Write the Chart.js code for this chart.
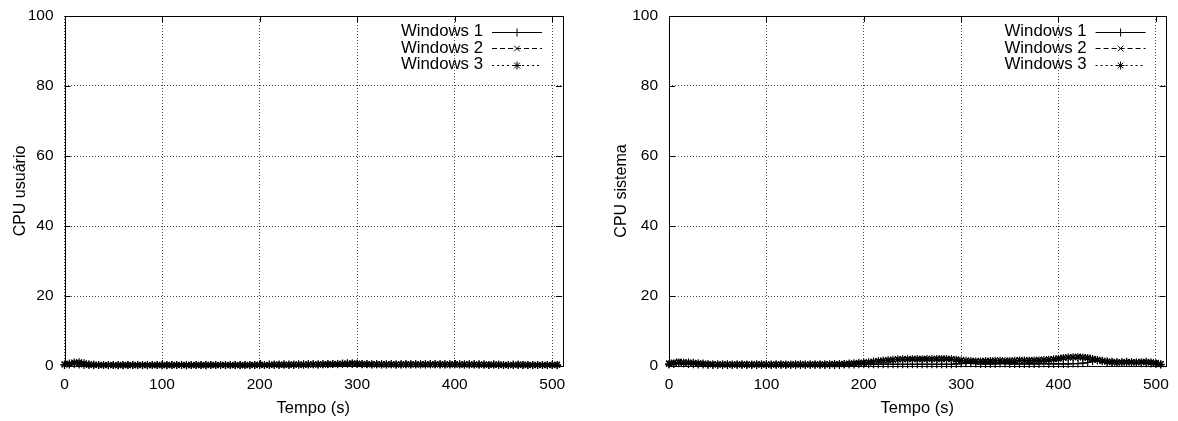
<!DOCTYPE html>
<html><head><meta charset="utf-8">
<script src="https://cdn.jsdelivr.net/npm/chart.js@4/dist/chart.umd.min.js"></script>
<style>
html,body{margin:0;padding:0;background:#fff;width:1178px;height:421px;overflow:hidden}
.box{position:absolute;top:0}
</style></head><body>
<div class="box" style="left:0"><canvas id="c1" width="590" height="421"></canvas></div>
<div class="box" style="left:600px"><canvas id="c2" width="578" height="421"></canvas></div>
<script>
const seriesNames = ["Windows 1", "Windows 2", "Windows 3"];
const times = [0,5,10,15,20,25,30,35,40,45,50,55,60,65,70,75,80,85,90,95,
100,105,110,115,120,125,130,135,140,145,150,155,160,165,170,175,180,185,190,195,
200,205,210,215,220,225,230,235,240,245,250,255,260,265,270,275,280,285,290,295,
300,305,310,315,320,325,330,335,340,345,350,355,360,365,370,375,380,385,390,395,
400,405,410,415,420,425,430,435,440,445,450,455,460,465,470,475,480,485,490,495,
500,505];
const xTicks = [0,100,200,300,400,500];
const yTicks = [0,20,40,60,80,100];

// CPU usuário
const userW1 = [0.3,0.4,0.5,0.4,0.3,0.3,0.2,0.3,0.3,0.2,
0.3,0.3,0.2,0.3,0.3,0.3,0.2,0.3,0.3,0.3,
0.3,0.2,0.3,0.3,0.3,0.2,0.3,0.3,0.3,0.2,
0.3,0.3,0.3,0.2,0.3,0.3,0.3,0.3,0.2,0.3,
0.3,0.3,0.4,0.3,0.3,0.4,0.4,0.3,0.4,0.4,
0.4,0.5,0.4,0.5,0.5,0.6,0.5,0.6,0.7,0.6,
0.6,0.5,0.5,0.4,0.5,0.4,0.4,0.5,0.4,0.4,
0.5,0.4,0.5,0.5,0.4,0.5,0.5,0.4,0.5,0.4,
0.5,0.5,0.4,0.4,0.5,0.4,0.4,0.3,0.4,0.3,
0.3,0.3,0.4,0.3,0.3,0.3,0.3,0.3,0.3,0.3,
0.3,0.2];
const userW2 = [0.5,0.6,0.9,0.7,0.4,0.3,0.3,0.3,0.2,0.3,
0.2,0.3,0.3,0.2,0.3,0.2,0.3,0.3,0.2,0.3,
0.3,0.3,0.2,0.3,0.3,0.3,0.2,0.3,0.2,0.3,
0.3,0.2,0.3,0.3,0.2,0.3,0.3,0.2,0.3,0.3,
0.3,0.3,0.3,0.4,0.3,0.3,0.4,0.4,0.4,0.3,
0.4,0.4,0.5,0.5,0.4,0.5,0.6,0.6,0.6,0.7,
0.6,0.6,0.5,0.5,0.5,0.5,0.4,0.5,0.5,0.4,
0.5,0.5,0.4,0.5,0.5,0.4,0.5,0.5,0.5,0.4,
0.5,0.4,0.5,0.4,0.4,0.4,0.4,0.4,0.3,0.4,
0.3,0.3,0.3,0.3,0.4,0.3,0.3,0.3,0.3,0.3,
0.3,0.4];
const userW3 = [0.4,0.7,1.0,1.1,0.8,0.5,0.4,0.3,0.3,0.3,
0.3,0.2,0.3,0.3,0.3,0.3,0.3,0.2,0.3,0.3,
0.2,0.3,0.3,0.3,0.3,0.2,0.3,0.3,0.3,0.3,
0.3,0.3,0.3,0.3,0.3,0.3,0.2,0.3,0.3,0.3,
0.4,0.3,0.3,0.4,0.4,0.4,0.3,0.4,0.4,0.4,
0.5,0.5,0.4,0.5,0.6,0.6,0.6,0.7,0.7,0.8,
0.7,0.6,0.6,0.5,0.5,0.5,0.5,0.5,0.4,0.5,
0.5,0.5,0.5,0.4,0.5,0.5,0.5,0.5,0.4,0.5,
0.5,0.4,0.4,0.5,0.4,0.4,0.4,0.3,0.4,0.4,
0.3,0.3,0.3,0.4,0.3,0.3,0.3,0.3,0.3,0.3,
0.3,0.3];

// CPU sistema
const sysW1 = [0.4,0.6,0.8,0.7,0.6,0.5,0.4,0.4,0.3,0.3,
0.3,0.3,0.3,0.3,0.3,0.3,0.3,0.3,0.3,0.3,
0.3,0.3,0.3,0.3,0.3,0.3,0.3,0.3,0.3,0.3,
0.3,0.3,0.3,0.3,0.3,0.3,0.4,0.4,0.4,0.5,
0.5,0.5,0.5,0.5,0.5,0.5,0.5,0.5,0.5,0.5,
0.5,0.5,0.5,0.5,0.5,0.5,0.5,0.5,0.5,0.6,
0.7,0.8,0.8,0.7,0.6,0.6,0.6,0.6,0.7,0.7,
0.6,0.6,0.6,0.6,0.6,0.6,0.6,0.7,0.6,0.6,
0.6,0.6,0.6,0.7,0.7,0.8,1.0,1.4,1.6,1.5,
1.3,1.2,1.1,1.0,1.0,0.9,0.9,0.8,0.8,0.7,
0.6,0.4];
const sysW2 = [0.8,1.0,1.3,1.1,0.9,0.8,0.7,0.6,0.5,0.5,
0.4,0.4,0.4,0.4,0.4,0.4,0.4,0.4,0.4,0.4,
0.4,0.4,0.4,0.4,0.4,0.4,0.4,0.4,0.4,0.4,
0.4,0.4,0.4,0.5,0.5,0.5,0.6,0.6,0.7,0.8,
0.9,1.0,1.1,1.3,1.5,1.6,1.8,1.9,2.0,2.0,
2.1,2.0,2.1,2.1,2.0,2.1,2.2,2.1,2.0,1.9,
1.7,1.6,1.5,1.5,1.4,1.5,1.5,1.6,1.6,1.5,
1.6,1.6,1.7,1.6,1.7,1.7,1.8,1.8,1.9,2.0,
2.2,2.4,2.5,2.6,2.7,2.6,2.4,2.1,1.8,1.5,
1.3,1.2,1.1,1.1,1.0,1.1,1.1,1.2,1.1,1.0,
0.9,0.6];
const sysW3 = [0.6,0.8,1.0,0.9,1.0,0.9,0.8,0.7,0.6,0.5,
0.5,0.5,0.5,0.4,0.5,0.5,0.4,0.4,0.5,0.5,
0.4,0.4,0.5,0.5,0.4,0.4,0.5,0.5,0.4,0.5,
0.5,0.5,0.5,0.5,0.6,0.6,0.6,0.7,0.8,0.9,
1.0,1.1,1.3,1.4,1.6,1.7,1.8,1.9,1.9,1.9,
1.9,2.0,1.9,2.0,2.0,2.0,1.9,2.0,1.9,1.8,
1.6,1.5,1.4,1.3,1.3,1.4,1.4,1.5,1.5,1.4,
1.4,1.5,1.6,1.6,1.5,1.6,1.6,1.7,1.8,1.9,
2.1,2.3,2.4,2.5,2.5,2.4,2.3,2.0,1.7,1.4,
1.2,1.1,1.0,1.1,1.2,1.1,1.0,1.1,1.2,1.1,
0.8,0.5];

const FONT = "'Liberation Sans', Arial, Helvetica, sans-serif";
const styles = [
  {dash: [], point: 'cross'},
  {dash: [5, 3], point: 'crossRot'},
  {dash: [2, 3], point: 'star'}
];

function pts(vals) { return vals.map((v, i) => ({x: times[i], y: v})); }

function drawMarker(ctx, type, x, y, r) {
  ctx.beginPath();
  if (type === 'cross' || type === 'star') {
    ctx.moveTo(x - r, y); ctx.lineTo(x + r, y);
    ctx.moveTo(x, y - r); ctx.lineTo(x, y + r);
  }
  if (type === 'crossRot' || type === 'star') {
    const d = r * 0.7071;
    ctx.moveTo(x - d, y - d); ctx.lineTo(x + d, y + d);
    ctx.moveTo(x - d, y + d); ctx.lineTo(x + d, y - d);
  }
  ctx.stroke();
}

const framePlugin = {
  id: 'frame',
  afterDraw(chart) {
    const {ctx, chartArea: a, scales} = chart;
    ctx.save();
    ctx.strokeStyle = '#000';
    ctx.lineWidth = 1;
    ctx.setLineDash([]);
    const tl = 6;
    ctx.beginPath();
    xTicks.forEach(t => {
      const px = Math.round(scales.x.getPixelForValue(t)) + 0.5;
      ctx.moveTo(px, a.bottom); ctx.lineTo(px, a.bottom - tl);
      ctx.moveTo(px, a.top); ctx.lineTo(px, a.top + tl);
    });
    yTicks.forEach(t => {
      const py = Math.round(scales.y.getPixelForValue(t)) + 0.5;
      ctx.moveTo(a.left, py); ctx.lineTo(a.left + tl, py);
      ctx.moveTo(a.right, py); ctx.lineTo(a.right - tl, py);
    });
    ctx.stroke();
    ctx.strokeRect(Math.round(a.left) + 0.5, Math.round(a.top) + 0.5,
                   Math.round(a.right - a.left), Math.round(a.bottom - a.top));
    // legend
    ctx.font = '16.8px ' + FONT;
    ctx.fillStyle = '#000';
    ctx.textAlign = 'right';
    ctx.textBaseline = 'middle';
    const lineEnd = a.right - 20, lineStart = lineEnd - 50, textRight = lineStart - 9;
    chart.data.datasets.forEach((ds, i) => {
      const y = a.top + 15.5 + i * 16.5;
      ctx.fillText(ds.label, textRight, y);
      ctx.setLineDash(styles[i].dash);
      ctx.beginPath();
      ctx.moveTo(lineStart, Math.round(y) + 0.5);
      ctx.lineTo(lineEnd, Math.round(y) + 0.5);
      ctx.stroke();
      ctx.setLineDash([]);
      drawMarker(ctx, styles[i].point, (lineStart + lineEnd) / 2, Math.round(y) + 0.5, 4);
    });
    ctx.restore();
  }
};

function makeChart(id, yTitle, arrays, yWidth, rightPad, titlePad) {
  const datasets = arrays.map((vals, i) => ({
    label: seriesNames[i],
    data: pts(vals),
    borderColor: '#000',
    backgroundColor: '#000',
    borderWidth: 1,
    borderDash: styles[i].dash,
    pointStyle: styles[i].point,
    pointRadius: 4,
    pointBorderWidth: 1.2,
    pointBorderColor: '#000',
    tension: 0,
    clip: false
  }));
  return new Chart(document.getElementById(id), {
    type: 'line',
    data: {datasets},
    plugins: [framePlugin],
    options: {
      responsive: false,
      animation: false,
      devicePixelRatio: 1,
      layout: {padding: {top: 16, right: rightPad, left: 0, bottom: 0}},
      plugins: {legend: {display: false}, tooltip: {enabled: false}},
      scales: {
        x: {
          type: 'linear', min: 0, max: 510,
          afterBuildTicks: s => { s.ticks = xTicks.map(v => ({value: v})); },
          afterFit: s => { s.height = 55; },
          ticks: {font: {size: 15.5, family: FONT}, color: '#000', padding: 9, maxRotation: 0},
          grid: {color: 'rgba(0,0,0,0.7)', lineWidth: 1, drawTicks: false},
          border: {display: false, dash: [1, 2]},
          title: {display: true, text: 'Tempo (s)', font: {size: 16.5, family: FONT}, color: '#000', padding: {top: 0, bottom: 3}}
        },
        y: {
          type: 'linear', min: 0, max: 100,
          afterBuildTicks: s => { s.ticks = yTicks.map(v => ({value: v})); },
          afterFit: s => { s.width = yWidth; s.paddingTop = 0; s.paddingBottom = 0; },
          ticks: {font: {size: 15.5, family: FONT}, color: '#000', padding: 11},
          grid: {color: 'rgba(0,0,0,0.7)', lineWidth: 1, drawTicks: false},
          border: {display: false, dash: [1, 2]},
          title: {display: true, text: yTitle, font: {size: 16, family: FONT}, color: '#000', padding: {top: titlePad, bottom: 0}}
        }
      }
    }
  });
}

makeChart('c1', 'CPU usuário', [userW1, userW2, userW3], 64.5, 28, 11);
makeChart('c2', 'CPU sistema', [sysW1, sysW2, sysW3], 69, 11, 12);
</script>
</body></html>
